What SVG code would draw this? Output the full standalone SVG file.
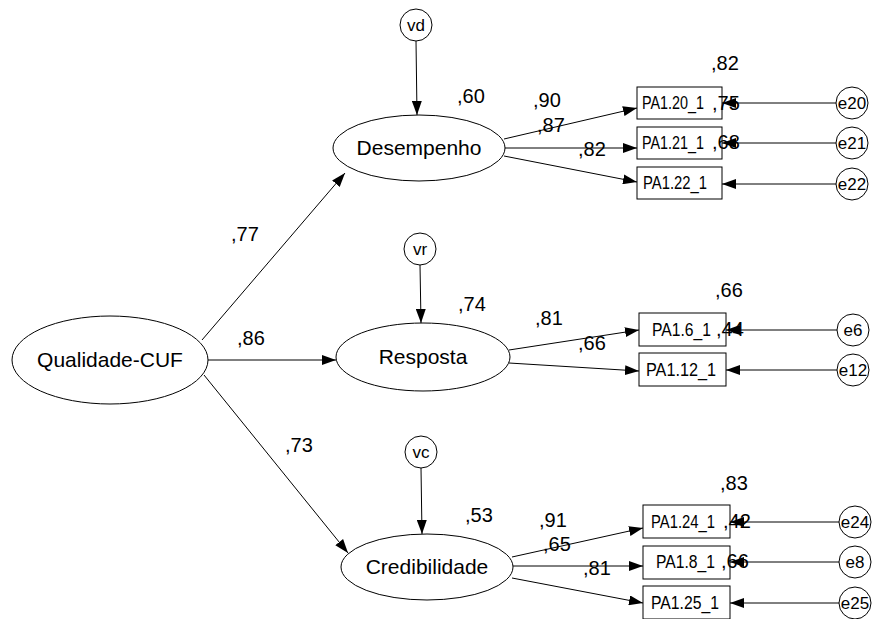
<svg xmlns="http://www.w3.org/2000/svg" width="873" height="619" viewBox="0 0 873 619">
<style>
  .bg { fill: #ffffff; }
  .shape { fill: #ffffff; stroke: #000000; stroke-width: 1; }
  .edge { stroke: #000000; stroke-width: 1; fill: none; marker-end: url(#arr); }
  .lat { font-family: "Liberation Sans", Arial, sans-serif; font-size: 21px; fill: #000; text-anchor: middle; }
  .obs { font-family: "Liberation Sans", Arial, sans-serif; font-size: 18px; fill: #000; }
  .err { font-family: "Liberation Sans", Arial, sans-serif; font-size: 17px; fill: #000; text-anchor: middle; }
  .num { font-family: "Liberation Sans", Arial, sans-serif; font-size: 20px; fill: #000; }
</style>
<defs>
  <marker id="arr" markerUnits="userSpaceOnUse" markerWidth="14" markerHeight="10" refX="14" refY="5" orient="auto">
    <path d="M0,0 L14,5 L0,10 z" fill="#000000"/>
  </marker>
</defs>
<rect class="bg" x="0" y="0" width="873" height="619"/>

<g id="connectors">
  <line class="edge" x1="202" y1="340" x2="345" y2="173"/>
  <line class="edge" x1="208" y1="360" x2="336" y2="360"/>
  <line class="edge" x1="204" y1="375" x2="348" y2="553"/>
  <line class="edge" x1="416" y1="41" x2="417" y2="115"/>
  <line class="edge" x1="420" y1="265" x2="421" y2="323"/>
  <line class="edge" x1="421" y1="468" x2="422" y2="534"/>
  <line class="edge" x1="504" y1="139" x2="637" y2="108"/>
  <line class="edge" x1="505" y1="148" x2="637" y2="148"/>
  <line class="edge" x1="504" y1="156" x2="637" y2="182"/>
  <line class="edge" x1="509" y1="350" x2="639" y2="330"/>
  <line class="edge" x1="509" y1="363" x2="639" y2="371"/>
  <line class="edge" x1="512" y1="557" x2="643" y2="528"/>
  <line class="edge" x1="513" y1="566" x2="643" y2="566"/>
  <line class="edge" x1="512" y1="578" x2="643" y2="603"/>
  <line class="edge" x1="836" y1="103" x2="722" y2="103"/>
  <line class="edge" x1="836" y1="143" x2="722" y2="143"/>
  <line class="edge" x1="836" y1="184" x2="722" y2="184"/>
  <line class="edge" x1="837" y1="330" x2="726" y2="330"/>
  <line class="edge" x1="837" y1="370" x2="726" y2="370"/>
  <line class="edge" x1="839" y1="522" x2="730" y2="522"/>
  <line class="edge" x1="839" y1="562" x2="730" y2="562"/>
  <line class="edge" x1="839" y1="603" x2="730" y2="603"/>
</g>

<g id="node-qualidade">
  <ellipse class="shape" cx="110" cy="360" rx="98" ry="44"/>
  <text class="lat" x="110" y="367">Qualidade-CUF</text>
</g>
<g id="node-desempenho">
  <ellipse class="shape" cx="419" cy="148" rx="86" ry="33"/>
  <text class="lat" x="419" y="155">Desempenho</text>
</g>
<g id="node-resposta">
  <ellipse class="shape" cx="423" cy="357" rx="87" ry="34"/>
  <text class="lat" x="423" y="364">Resposta</text>
</g>
<g id="node-credibilidade">
  <ellipse class="shape" cx="427" cy="567" rx="86" ry="33"/>
  <text class="lat" x="427" y="574">Credibilidade</text>
</g>

<g id="node-vd">
  <circle class="shape" cx="416" cy="25" r="16"/>
  <text class="err" x="416" y="31">vd</text>
</g>
<g id="node-vr">
  <circle class="shape" cx="420" cy="249" r="16"/>
  <text class="err" x="420" y="255">vr</text>
</g>
<g id="node-vc">
  <circle class="shape" cx="421" cy="452" r="16"/>
  <text class="err" x="421" y="458">vc</text>
</g>

<g id="node-pa1-20">
  <rect class="shape" x="637" y="87" width="85" height="32"/>
  <text class="obs" x="642" y="109" textLength="62" lengthAdjust="spacingAndGlyphs">PA1.20_1</text>
</g>
<g id="node-pa1-21">
  <rect class="shape" x="637" y="127" width="85" height="32"/>
  <text class="obs" x="642" y="149" textLength="62" lengthAdjust="spacingAndGlyphs">PA1.21_1</text>
</g>
<g id="node-pa1-22">
  <rect class="shape" x="637" y="167" width="85" height="32"/>
  <text class="obs" x="643" y="189" textLength="64" lengthAdjust="spacingAndGlyphs">PA1.22_1</text>
</g>
<g id="node-pa1-6">
  <rect class="shape" x="639" y="313" width="87" height="33"/>
  <text class="obs" x="652" y="336" textLength="59" lengthAdjust="spacingAndGlyphs">PA1.6_1</text>
</g>
<g id="node-pa1-12">
  <rect class="shape" x="639" y="353" width="87" height="33"/>
  <text class="obs" x="646" y="376" textLength="70" lengthAdjust="spacingAndGlyphs">PA1.12_1</text>
</g>
<g id="node-pa1-24">
  <rect class="shape" x="643" y="505" width="87" height="33"/>
  <text class="obs" x="651" y="528" textLength="64" lengthAdjust="spacingAndGlyphs">PA1.24_1</text>
</g>
<g id="node-pa1-8">
  <rect class="shape" x="643" y="546" width="87" height="33"/>
  <text class="obs" x="656" y="568" textLength="59" lengthAdjust="spacingAndGlyphs">PA1.8_1</text>
</g>
<g id="node-pa1-25">
  <rect class="shape" x="643" y="586" width="87" height="33"/>
  <text class="obs" x="651" y="609" textLength="68" lengthAdjust="spacingAndGlyphs">PA1.25_1</text>
</g>

<g id="node-e20"><circle class="shape" cx="852" cy="103" r="16"/><text class="err" x="852" y="109">e20</text></g>
<g id="node-e21"><circle class="shape" cx="852" cy="143" r="16"/><text class="err" x="852" y="149">e21</text></g>
<g id="node-e22"><circle class="shape" cx="852" cy="184" r="16"/><text class="err" x="852" y="190">e22</text></g>
<g id="node-e6"><circle class="shape" cx="853" cy="330" r="16"/><text class="err" x="853" y="336">e6</text></g>
<g id="node-e12"><circle class="shape" cx="853" cy="370" r="16"/><text class="err" x="853" y="376">e12</text></g>
<g id="node-e24"><circle class="shape" cx="855" cy="522" r="16"/><text class="err" x="855" y="528">e24</text></g>
<g id="node-e8"><circle class="shape" cx="855" cy="562" r="16"/><text class="err" x="855" y="568">e8</text></g>
<g id="node-e25"><circle class="shape" cx="855" cy="603" r="16"/><text class="err" x="855" y="609">e25</text></g>

<g id="labels">
  <text class="num" x="231" y="241">,77</text>
  <text class="num" x="237" y="345">,86</text>
  <text class="num" x="285" y="452">,73</text>
  <text class="num" x="457" y="103">,60</text>
  <text class="num" x="458" y="311">,74</text>
  <text class="num" x="465" y="522">,53</text>
  <text class="num" x="533" y="107">,90</text>
  <text class="num" x="537" y="132">,87</text>
  <text class="num" x="578" y="156">,82</text>
  <text class="num" x="535" y="325">,81</text>
  <text class="num" x="578" y="350">,66</text>
  <text class="num" x="539" y="527">,91</text>
  <text class="num" x="543" y="551">,65</text>
  <text class="num" x="583" y="575">,81</text>
  <text class="num" x="711" y="70">,82</text>
  <text class="num" x="712" y="110">,75</text>
  <text class="num" x="712" y="149">,68</text>
  <text class="num" x="715" y="297">,66</text>
  <text class="num" x="716" y="336">,44</text>
  <text class="num" x="720" y="490">,83</text>
  <text class="num" x="723" y="528">,42</text>
  <text class="num" x="721" y="568">,66</text>
</g>
</svg>
